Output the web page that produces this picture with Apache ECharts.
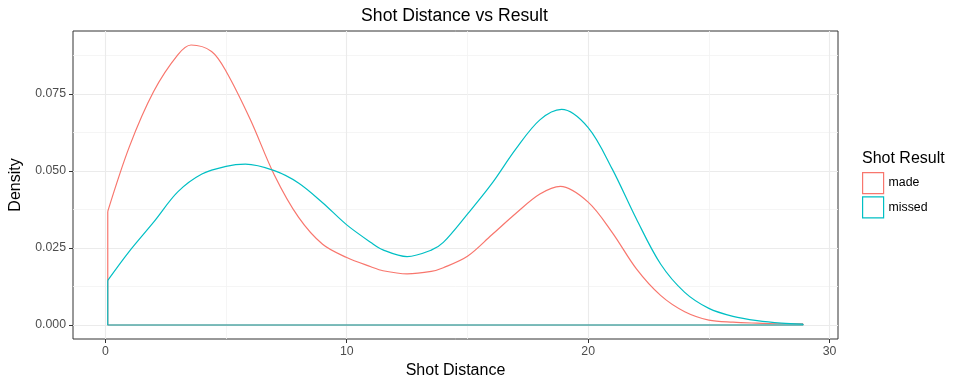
<!DOCTYPE html>
<html>
<head>
<meta charset="utf-8">
<script src="https://cdn.jsdelivr.net/npm/echarts@6/dist/echarts.min.js"></script>
<style>html,body{margin:0;padding:0;background:#fff;}#c{width:960px;height:384px;}</style>
</head>
<body>
<div id="c"></div>
<script>
// ---- data ----
const madeX = [0.1, 1, 2, 3, 3.55, 4.4, 5, 6, 7, 8, 9, 10, 11, 11.5, 12.5, 13.5, 14, 15, 16, 17, 18, 18.85, 20, 21, 22, 23, 24, 25, 26, 27, 28, 28.9];
const madeY = [0.0369, 0.0580, 0.0758, 0.0877, 0.0909, 0.0888, 0.0824, 0.0668, 0.0487, 0.0350, 0.0262, 0.0219, 0.0189, 0.0176, 0.0166, 0.0174, 0.0186, 0.0223, 0.0292, 0.0362, 0.0425, 0.0450, 0.0399, 0.0300, 0.0182, 0.0096, 0.0043, 0.0016, 0.0009, 0.0006, 0.0004, 0.0004];
const missedX = [0.1, 1, 2, 3, 4, 5, 5.8, 7, 8, 9, 10, 11, 11.5, 12.5, 13.5, 14, 15, 16, 17, 18, 18.9, 20, 21, 22, 23, 24, 25, 26, 27, 28, 28.9];
const missedY = [0.0145, 0.0240, 0.0334, 0.0432, 0.0490, 0.0515, 0.0522, 0.0501, 0.0461, 0.0397, 0.0325, 0.0268, 0.0244, 0.0222, 0.0243, 0.0268, 0.0360, 0.0458, 0.0571, 0.0666, 0.0700, 0.0641, 0.0506, 0.0344, 0.0198, 0.0106, 0.0054, 0.0028, 0.0014, 0.0006, 0.0003];
const groups = ['made', 'missed'];
const colors = ['#F8766D', '#00BFC4'];
const xTicks = [0, 10, 20, 30];
const xMinor = [5, 15, 25];
const yTicks = [0, 0.025, 0.05, 0.075];
const yMinor = [0.0125, 0.0375, 0.0625, 0.0875];
const yLabels = ['0.000', '0.025', '0.050', '0.075'];

const FONT = 'Liberation Sans, Arial, sans-serif';
const pair = (xs, ys) => xs.map((x, i) => [x, ys[i]]);
const outline = (xs, ys) => {
  const n = xs.length - 1;
  return [[xs[0], ys[0]], [xs[0], 0], [xs[n], 0], [xs[n], ys[n]]];
};

const series = [];
[[madeX, madeY], [missedX, missedY]].forEach((d, i) => {
  series.push({
    name: groups[i], type: 'line', smooth: 0.33, showSymbol: false, symbol: 'none',
    data: pair(d[0], d[1]), lineStyle: {color: colors[i], width: 1.2}, itemStyle: {color: colors[i]},
    z: 3 + i, silent: true
  });
  series.push({
    name: groups[i], type: 'line', smooth: false, showSymbol: false, symbol: 'none',
    data: outline(d[0], d[1]), lineStyle: {color: colors[i], width: 1.2}, itemStyle: {color: colors[i]},
    z: 3 + i, silent: true
  });
});

const chart = echarts.init(document.getElementById('c'), null, {renderer: 'canvas'});
chart.setOption({
  animation: false,
  backgroundColor: '#fff',
  title: [
    {text: 'Shot Distance vs Result', left: 454.5, top: 7, textAlign: 'center', padding: 0,
     textStyle: {fontFamily: FONT, fontSize: 17.6, fontWeight: 'normal', color: '#000'}},
    {text: 'Shot Result', left: 862, top: 151, padding: 0,
     textStyle: {fontFamily: FONT, fontSize: 16, fontWeight: 'normal', color: '#000'}}
  ],
  legend: {
    orient: 'vertical', left: 862, top: 172, padding: 0, itemWidth: 21, itemHeight: 21, itemGap: 2,
    selectedMode: false,
    textStyle: {fontFamily: FONT, fontSize: 12.3, color: '#000'},
    data: groups.map((g, i) => ({name: g, icon: 'rect', itemStyle: {color: '#fff', borderColor: colors[i], borderWidth: 1.2}}))
  },
  grid: {left: 71, right: 122, top: 31, bottom: 45, show: true, borderColor: '#333333', borderWidth: 1, backgroundColor: 'transparent'},
  xAxis: [
    {type: 'value', min: -1.34, max: 30.35, position: 'bottom',
     name: 'Shot Distance', nameLocation: 'middle', nameGap: 23,
     nameTextStyle: {fontFamily: FONT, fontSize: 16, color: '#000'},
     axisLine: {show: false, onZero: false},
     axisTick: {show: true, length: 4, customValues: xTicks, lineStyle: {color: '#333333'}},
     axisLabel: {customValues: xTicks, margin: 7, fontFamily: FONT, fontSize: 12.3, color: '#4D4D4D'},
     splitLine: {show: true, lineStyle: {color: '#EBEBEB', width: 1.1}}},
    {type: 'value', min: -1.34, max: 30.35, position: 'top',
     axisLine: {show: false, onZero: false}, axisTick: {show: false, customValues: xMinor},
     axisLabel: {show: false, customValues: xMinor},
     splitLine: {show: true, lineStyle: {color: '#F2F2F2', width: 0.8}}}
  ],
  yAxis: [
    {type: 'value', min: -0.00455, max: 0.09545, position: 'left',
     name: 'Density', nameLocation: 'middle', nameGap: 49,
     nameTextStyle: {fontFamily: FONT, fontSize: 16, color: '#000'},
     axisLine: {show: false, onZero: false},
     axisTick: {show: true, length: 4, customValues: yTicks, lineStyle: {color: '#333333'}},
     axisLabel: {customValues: yTicks, margin: 7, fontFamily: FONT, fontSize: 12.3, color: '#4D4D4D',
       formatter: v => { const k = yTicks.findIndex(t => Math.abs(t - v) < 1e-9); return k >= 0 ? yLabels[k] : ''; }},
     splitLine: {show: true, lineStyle: {color: '#EBEBEB', width: 1.1}}},
    {type: 'value', min: -0.00455, max: 0.09545, position: 'right',
     axisLine: {show: false, onZero: false}, axisTick: {show: false, customValues: yMinor},
     axisLabel: {show: false, customValues: yMinor},
     splitLine: {show: true, lineStyle: {color: '#F2F2F2', width: 0.8}}}
  ],
  series: series
});
</script>
</body>
</html>
